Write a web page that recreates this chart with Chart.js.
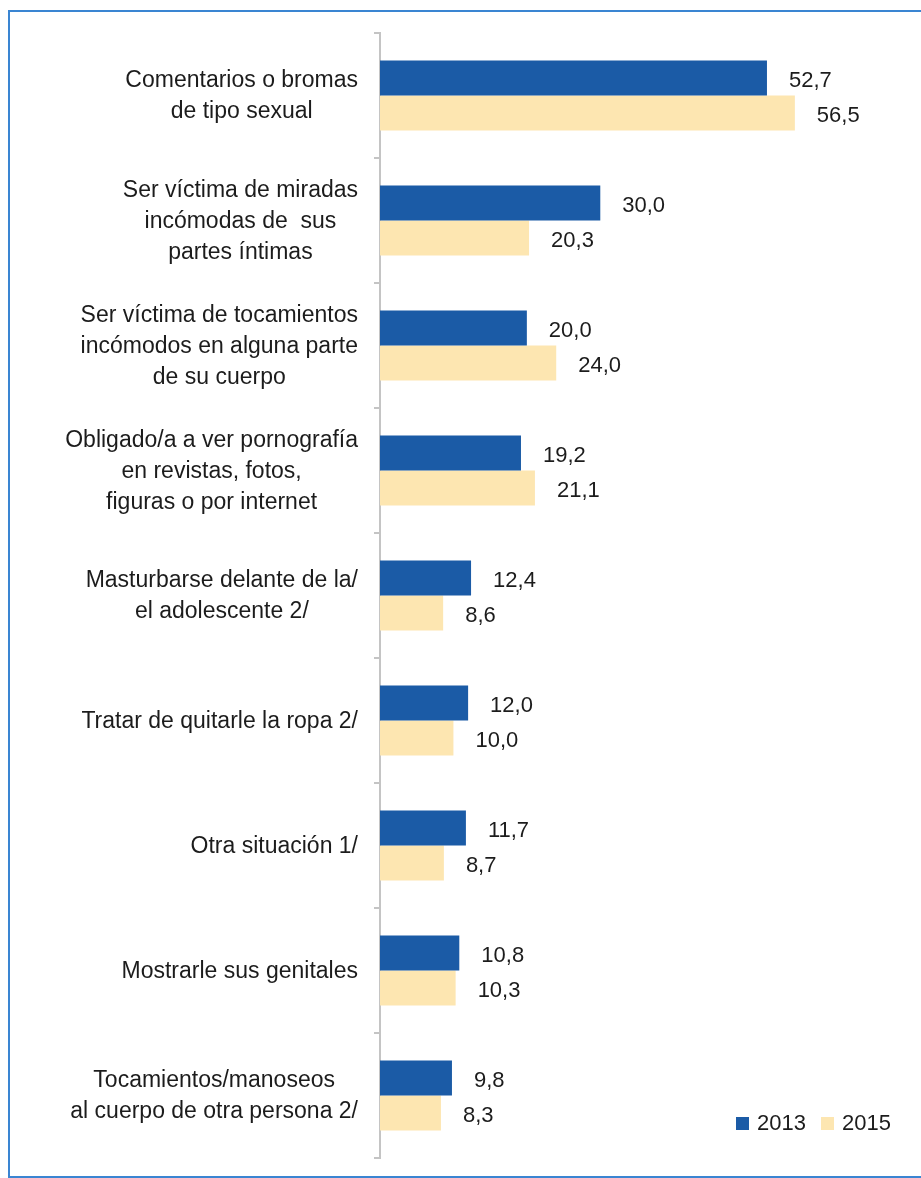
<!DOCTYPE html>
<html lang="es">
<head>
    <meta charset="UTF-8">
    <title>Situaciones de acoso sexual 2013 - 2015</title>
    <style>
        html, body {
            margin: 0;
            padding: 0;
            background: #ffffff;
            overflow: hidden;
        }
        .marco {
            position: absolute;
            left: 8px;
            top: 10px;
            width: 940px;
            height: 1164px;
            border: 2px solid #3a85d2;
        }
        canvas {
            position: absolute;
            left: 0;
            top: 0;
        }
    </style>
    <script src="https://cdn.jsdelivr.net/npm/chart.js"></script>
</head>
<body>
    <div class="marco"></div>
    <canvas id="grafico" width="921" height="1178"></canvas>

    <script>
        // Datos del gráfico
        const categorias = [
            ['Comentarios o bromas', 'de tipo sexual'],
            ['Ser víctima de miradas', 'incómodas de  sus', 'partes íntimas'],
            ['Ser víctima de tocamientos', 'incómodos en alguna parte', 'de su cuerpo'],
            ['Obligado/a a ver pornografía', 'en revistas, fotos,', 'figuras o por internet'],
            ['Masturbarse delante de la/', 'el adolescente 2/'],
            ['Tratar de quitarle la ropa 2/'],
            ['Otra situación 1/'],
            ['Mostrarle sus genitales'],
            ['Tocamientos/manoseos', 'al cuerpo de otra persona 2/']
        ];
        const valores2013 = [52.7, 30.0, 20.0, 19.2, 12.4, 12.0, 11.7, 10.8, 9.8];
        const valores2015 = [56.5, 20.3, 24.0, 21.1, 8.6, 10.0, 8.7, 10.3, 8.3];
        const anios = ['2013', '2015'];

        const colorAzul = '#1b5ba6';
        const colorCrema = '#fde6b1';
        const colorTexto = '#1c1c1c';
        const fuente = '"Liberation Sans", Arial, sans-serif';

        function formato(v) {
            return v.toFixed(1).replace('.', ',');
        }

        // Etiquetas del eje: bloque alineado a la derecha, lineas centradas
        const etiquetasEje = {
            id: 'etiquetasEje',
            afterDraw(chart) {
                const ctx = chart.ctx;
                const y = chart.scales.y;
                const derecha = 358;
                const alto = 31;
                ctx.save();
                ctx.font = '23px ' + fuente;
                ctx.fillStyle = colorTexto;
                ctx.textAlign = 'center';
                ctx.textBaseline = 'middle';
                chart.data.labels.forEach((lineas, i) => {
                    let ancho = 0;
                    lineas.forEach(l => { ancho = Math.max(ancho, ctx.measureText(l).width); });
                    const cx = derecha - ancho / 2;
                    const cy = y.getPixelForValue(i);
                    const inicio = cy - (lineas.length - 1) * alto / 2;
                    lineas.forEach((l, k) => {
                        ctx.fillText(l, cx, inicio + k * alto + 1);
                    });
                });
                ctx.restore();
            }
        };

        // Valores al final de cada barra
        const valoresBarras = {
            id: 'valoresBarras',
            afterDatasetsDraw(chart) {
                const ctx = chart.ctx;
                ctx.save();
                ctx.font = '22px ' + fuente;
                ctx.fillStyle = colorTexto;
                ctx.textAlign = 'left';
                ctx.textBaseline = 'middle';
                chart.data.datasets.forEach((ds, d) => {
                    chart.getDatasetMeta(d).data.forEach((barra, i) => {
                        ctx.fillText(formato(ds.data[i]), barra.x + 22, barra.y + 3);
                    });
                });
                ctx.restore();
            }
        };

        // Leyenda abajo a la derecha
        const leyenda = {
            id: 'leyenda',
            afterDraw(chart) {
                const ctx = chart.ctx;
                const posiciones = [736, 821];
                ctx.save();
                ctx.font = '22px ' + fuente;
                ctx.textBaseline = 'middle';
                ctx.textAlign = 'left';
                chart.data.datasets.forEach((ds, d) => {
                    const x = posiciones[d];
                    ctx.fillStyle = ds.backgroundColor;
                    ctx.fillRect(x, 1117, 13, 13);
                    ctx.fillStyle = colorTexto;
                    ctx.fillText(ds.label, x + 21, 1124);
                });
                ctx.restore();
            }
        };

        const ctx = document.getElementById('grafico').getContext('2d');
        new Chart(ctx, {
            type: 'bar',
            data: {
                labels: categorias,
                datasets: [
                    {
                        label: anios[0],
                        data: valores2013,
                        backgroundColor: colorAzul,
                        barPercentage: 1,
                        categoryPercentage: 0.56
                    },
                    {
                        label: anios[1],
                        data: valores2015,
                        backgroundColor: colorCrema,
                        barPercentage: 1,
                        categoryPercentage: 0.56
                    }
                ]
            },
            options: {
                indexAxis: 'y',
                responsive: false,
                animation: false,
                layout: {
                    padding: { top: 33, bottom: 20, left: 0, right: 27 }
                },
                plugins: {
                    legend: { display: false },
                    tooltip: { enabled: false }
                },
                scales: {
                    x: {
                        display: false,
                        min: 0,
                        max: 70
                    },
                    y: {
                        afterFit(scale) {
                            scale.width = 380;
                        },
                        ticks: { display: false },
                        grid: {
                            drawOnChartArea: false,
                            drawTicks: true,
                            tickLength: 6,
                            color: '#c4c4c4',
                            lineWidth: 2
                        },
                        border: {
                            display: true,
                            color: '#c4c4c4',
                            width: 2
                        }
                    }
                }
            },
            plugins: [etiquetasEje, valoresBarras, leyenda]
        });
    </script>
</body>
</html>
